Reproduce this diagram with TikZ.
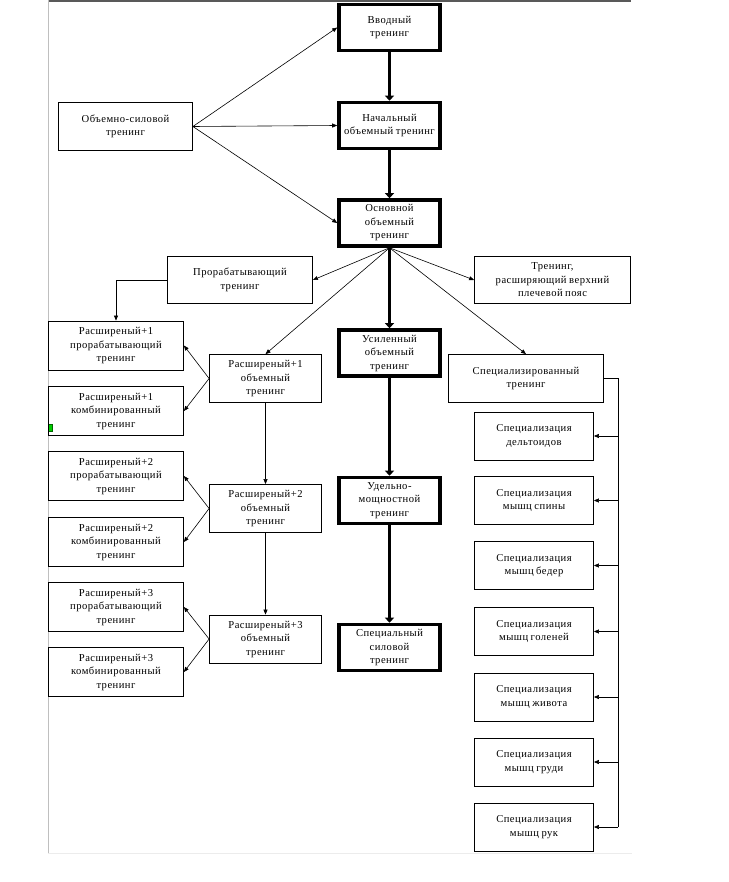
\documentclass[tikz,border=0pt]{standalone}
\usepackage{fontspec}
\setmainfont{Liberation Serif}[LetterSpace=4.5,WordSpace=0.8]
\usetikzlibrary{arrows.meta}

\tikzset{
  box/.style={draw, line width=0.8pt, align=center, inner sep=1pt, font=\fontsize{10.6}{13.5}\selectfont},
  mainbox/.style={box, line width=3.6pt, minimum width=101pt, minimum height=46pt},
  extbox/.style={box, minimum width=135pt, minimum height=49pt},
  volbox/.style={box, minimum width=112pt, minimum height=48pt},
  specbox/.style={box, minimum width=119pt, minimum height=48pt},
  link/.style={line width=0.6pt, -{Triangle[length=5pt,width=4pt]}},
  mainlink/.style={line width=3.6pt, -{Triangle[length=5pt,width=9pt]}},
}

\begin{document}
\begin{tikzpicture}[x=1pt,y=-1pt]
\useasboundingbox (0,0) rectangle (728,882);
% page frame
\draw[gray!70!black, line width=1.5pt] (48,1) -- (631,1);
\draw[gray!50, line width=1pt] (48,0) -- (48,853);
\draw[gray!15, line width=1pt] (48,853) -- (632,853);
\filldraw[fill=green!80!black, draw=green!40!black, line width=0.4pt] (48,424) rectangle (52,431);

% main column
\node[mainbox] (vvod) at (389.5,27.5) {Вводный\\тренинг};
\node[mainbox] (nach) at (389.5,125.5) {Начальный\\объемный тренинг};
\node[mainbox] (osn) at (389.5,223) {Основной\\объемный\\тренинг};
\node[mainbox] (usil) at (389.5,353) {Усиленный\\объемный\\тренинг};
\node[mainbox] (udel) at (389.5,500.5) {Удельно-\\мощностной\\тренинг};
\node[mainbox] (spsil) at (389.5,647.5) {Специальный\\силовой\\тренинг};
\draw[mainlink] (vvod) -- (nach);
\draw[mainlink] (nach) -- (osn);
\draw[mainlink] (osn) -- (usil);
\draw[mainlink] (usil) -- (udel);
\draw[mainlink] (udel) -- (spsil);

\node[box, minimum width=134pt, minimum height=48pt] (obsil) at (125.5,126.5) {Объемно-силовой\\тренинг};
\foreach \t in {vvod,nach,osn}{\draw[link] (obsil.east) -- (\t.west);}

\node[box, minimum width=145pt, minimum height=47pt] (prorab) at (240,280) {Прорабатывающий\\тренинг};
\node[box, minimum width=156pt, minimum height=47pt] (plech) at (552.5,280) {Тренинг,\\расширяющий верхний\\плечевой пояс};
\node[box, minimum width=155pt, minimum height=48pt] (spz) at (526,378.5) {Специализированный\\тренинг};

% extended branch
\foreach \n/\yp/\yk/\yv in {1/345.5/411/378.5, 2/476/542/508.5, 3/607/672/639}{
  \node[extbox] (p\n) at (116,\yp) {Расширеный+\n\\прорабатывающий\\тренинг};
  \node[extbox] (k\n) at (116,\yk) {Расширеный+\n\\комбинированный\\тренинг};
  \node[volbox] (v\n) at (265.5,\yv) {Расширеный+\n\\объемный\\тренинг};
  \draw[link] (v\n.west) -- (p\n.east);
  \draw[link] (v\n.west) -- (k\n.east);
}
\draw[link] (v1) -- (v2);
\draw[link] (v2) -- (v3);
\draw[link] (prorab.west) -| (p1.north);

% fan from the basic block
\draw[link] (osn.south) -- (prorab.east);
\draw[link] (osn.south) -- (v1.north);
\draw[link] (osn.south) -- (plech.west);
\draw[link] (osn.south) -- (spz.north);

% specialisations
\foreach \i/\y/\t in {1/436/дельтоидов, 2/500.5/мышц спины, 3/565.5/мышц бедер, 4/631.5/мышц голеней, 5/697/мышц живота, 6/762/мышц груди, 7/827/мышц рук}{
  \node[specbox] (s\i) at (534,\y) {Специализация\\\t};
}
\coordinate (bus) at (618,378.5);
\draw[line width=0.6pt] (spz.east) -- (bus) -- (bus |- s7.east);
\foreach \i in {1,...,7}{\draw[link] (bus |- s\i.east) -- (s\i.east);}

\end{tikzpicture}
\end{document}
